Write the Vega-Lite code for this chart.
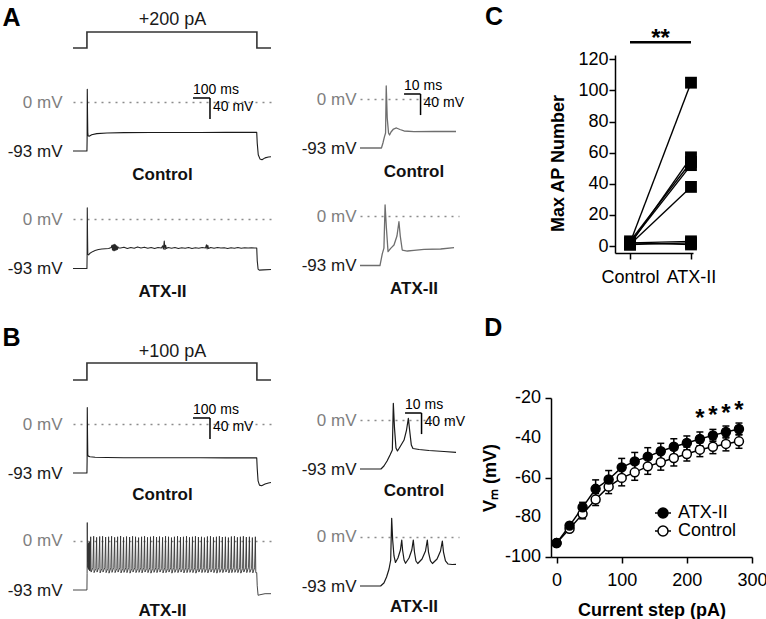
{
"$schema": "https://vega.github.io/schema/vega-lite/v6.json",
"padding": {"left": 2, "top": 0, "right": 0, "bottom": 0},
"background": "white",
"config": {"view": {"stroke": null}, "font": "Liberation Sans", "axis": {"grid": false, "labelFont": "Liberation Sans", "titleFont": "Liberation Sans"}, "legend": {"labelFont": "Liberation Sans"}, "title": {"font": "Liberation Sans"}, "text": {"font": "Liberation Sans"}},
"datasets": {
"stimA": [{"t":0,"i":0},{"t":82,"i":0},{"t":82,"i":200},{"t":1082,"i":200},{"t":1082,"i":0},{"t":1165,"i":0}],
"stimB": [{"t":0,"i":0},{"t":82,"i":0},{"t":82,"i":100},{"t":1082,"i":100},{"t":1082,"i":0},{"t":1165,"i":0}],
"a1l": [{"t":0,"v":-93},{"t":82,"v":-93},{"t":83,"v":-72},{"t":84,"v":24},{"t":85.5,"v":-22},{"t":87,"v":-58},{"t":89,"v":-64},{"t":95,"v":-65},{"t":110,"v":-62},{"t":140,"v":-60},{"t":200,"v":-58.8},{"t":300,"v":-58.2},{"t":450,"v":-58},{"t":600,"v":-57.8},{"t":750,"v":-57.8},{"t":900,"v":-57.6},{"t":1000,"v":-57.6},{"t":1081,"v":-57.6},{"t":1084,"v":-78},{"t":1090,"v":-100},{"t":1100,"v":-108},{"t":1112,"v":-109.5},{"t":1130,"v":-106},{"t":1150,"v":-104.4},{"t":1165,"v":-104}],
"a2l": [{"t":0,"v":-93},{"t":82,"v":-93},{"t":83,"v":-70},{"t":84,"v":22},{"t":85.5,"v":-30},{"t":87,"v":-66},{"t":92,"v":-67},{"t":100,"v":-64},{"t":115,"v":-61},{"t":130,"v":-59},{"t":150,"v":-57},{"t":170,"v":-56},{"t":190,"v":-55.5},{"t":210,"v":-55},{"t":225,"v":-53},{"t":229,"v":-49},{"t":232.5,"v":-58},{"t":236,"v":-48},{"t":239.5,"v":-59},{"t":243,"v":-47},{"t":246.5,"v":-59},{"t":250,"v":-48},{"t":253.5,"v":-58},{"t":257,"v":-50},{"t":260.5,"v":-57},{"t":264,"v":-52},{"t":268,"v":-54},{"t":280,"v":-54},{"t":300,"v":-52.5},{"t":320,"v":-55},{"t":340,"v":-53},{"t":360,"v":-54.5},{"t":380,"v":-52},{"t":400,"v":-54},{"t":420,"v":-52.5},{"t":440,"v":-54.5},{"t":460,"v":-53},{"t":480,"v":-55},{"t":500,"v":-53},{"t":520,"v":-54},{"t":528,"v":-50},{"t":532,"v":-56},{"t":537,"v":-41},{"t":541,"v":-57},{"t":545,"v":-49},{"t":549,"v":-55},{"t":560,"v":-53},{"t":580,"v":-54.5},{"t":600,"v":-53},{"t":620,"v":-55},{"t":640,"v":-53.5},{"t":660,"v":-54.5},{"t":680,"v":-53},{"t":700,"v":-55},{"t":720,"v":-53.5},{"t":740,"v":-54.5},{"t":760,"v":-53},{"t":780,"v":-54},{"t":785,"v":-48},{"t":789,"v":-56},{"t":793,"v":-49},{"t":797,"v":-55},{"t":810,"v":-53},{"t":830,"v":-54.5},{"t":850,"v":-53},{"t":870,"v":-54},{"t":890,"v":-53.5},{"t":910,"v":-55},{"t":930,"v":-53.5},{"t":950,"v":-54.5},{"t":970,"v":-53},{"t":990,"v":-54.5},{"t":1010,"v":-53.5},{"t":1030,"v":-54},{"t":1050,"v":-53.5},{"t":1070,"v":-54},{"t":1081,"v":-54},{"t":1084,"v":-78},{"t":1089,"v":-94},{"t":1096,"v":-96},{"t":1120,"v":-95.5},{"t":1165,"v":-95}],
"b1l": [{"t":0,"v":-93},{"t":82,"v":-93},{"t":83,"v":-70},{"t":84,"v":31},{"t":85.5,"v":-20},{"t":87,"v":-58},{"t":90,"v":-61},{"t":100,"v":-62},{"t":130,"v":-63},{"t":200,"v":-63.5},{"t":300,"v":-64},{"t":450,"v":-64},{"t":600,"v":-64},{"t":750,"v":-64},{"t":900,"v":-64.2},{"t":1000,"v":-64.2},{"t":1081,"v":-64.2},{"t":1084,"v":-85},{"t":1089,"v":-108},{"t":1097,"v":-116},{"t":1110,"v":-117},{"t":1130,"v":-114},{"t":1150,"v":-112},{"t":1165,"v":-111}],
"b2l": [{"t":0,"v":-93},{"t":82,"v":-93},{"t":83,"v":-62},{"t":84,"v":35},{"t":85.5,"v":-40},{"t":86.5,"v":-8},{"t":87.5,"v":-50},{"t":88.5,"v":-6},{"t":89.5,"v":-52},{"t":90.5,"v":-5},{"t":91.5,"v":-53},{"t":92.5,"v":-4},{"t":93.5,"v":-54},{"t":94.5,"v":-3},{"t":95.5,"v":-55},{"t":96.5,"v":-2},{"t":97.5,"v":-56},{"t":98.5,"v":-1},{"t":99.5,"v":-57},{"t":101,"v":-54},
{"t":104,"v":8},{"t":106.5,"v":-59},{"t":117,"v":-51},
{"t":121.5,"v":9},{"t":124,"v":-60},{"t":134.5,"v":-52},
{"t":139,"v":7},{"t":141.5,"v":-59},{"t":152,"v":-50},
{"t":157,"v":8.5},{"t":159.5,"v":-60.5},{"t":170,"v":-52},
{"t":174,"v":9},{"t":176.5,"v":-59},{"t":187,"v":-51},
{"t":192,"v":7.5},{"t":194.5,"v":-60},{"t":205,"v":-52},
{"t":209.5,"v":8},{"t":212,"v":-61},{"t":222.5,"v":-51},
{"t":227,"v":9},{"t":229.5,"v":-59.5},{"t":240,"v":-50},
{"t":245,"v":7},{"t":247.5,"v":-60},{"t":258,"v":-52},
{"t":262.5,"v":8},{"t":265,"v":-59},{"t":275.5,"v":-51},
{"t":280,"v":9.5},{"t":282.5,"v":-60.5},{"t":293,"v":-52},
{"t":297.5,"v":7},{"t":300,"v":-59.5},{"t":310.5,"v":-51},
{"t":315,"v":8.5},{"t":317.5,"v":-60},{"t":328,"v":-50},
{"t":333,"v":7.5},{"t":335.5,"v":-61},{"t":346,"v":-52},
{"t":350.5,"v":9},{"t":353,"v":-59},{"t":363.5,"v":-51},
{"t":368,"v":8},{"t":370.5,"v":-60},{"t":381,"v":-52},
{"t":386,"v":6.5},{"t":388.5,"v":-59.5},{"t":399,"v":-51},
{"t":403.5,"v":8},{"t":406,"v":-60.5},{"t":416.5,"v":-50},
{"t":421,"v":9},{"t":423.5,"v":-59},{"t":434,"v":-52},
{"t":438.5,"v":7},{"t":441,"v":-60},{"t":451.5,"v":-51},
{"t":456,"v":8},{"t":458.5,"v":-61},{"t":469,"v":-52},
{"t":474,"v":9},{"t":476.5,"v":-59.5},{"t":487,"v":-51},
{"t":491.5,"v":7.5},{"t":494,"v":-60},{"t":504.5,"v":-50},
{"t":509,"v":8.5},{"t":511.5,"v":-59},{"t":522,"v":-52},
{"t":527,"v":7},{"t":529.5,"v":-60.5},{"t":540,"v":-51},
{"t":544.5,"v":9},{"t":547,"v":-60},{"t":557.5,"v":-52},
{"t":562,"v":8},{"t":564.5,"v":-59},{"t":575,"v":-51},
{"t":579.5,"v":6.5},{"t":582,"v":-61},{"t":592.5,"v":-50},
{"t":597,"v":8},{"t":599.5,"v":-59.5},{"t":610,"v":-52},
{"t":615,"v":9},{"t":617.5,"v":-60},{"t":628,"v":-51},
{"t":632.5,"v":7.5},{"t":635,"v":-59},{"t":645.5,"v":-52},
{"t":650,"v":8},{"t":652.5,"v":-60.5},{"t":663,"v":-51},
{"t":668,"v":9},{"t":670.5,"v":-60},{"t":681,"v":-50},
{"t":685.5,"v":7},{"t":688,"v":-59.5},{"t":698.5,"v":-52},
{"t":703,"v":8},{"t":705.5,"v":-60},{"t":716,"v":-51},
{"t":720.5,"v":9},{"t":723,"v":-61},{"t":733.5,"v":-52},
{"t":738,"v":7.5},{"t":740.5,"v":-59},{"t":751,"v":-51},
{"t":756,"v":8},{"t":758.5,"v":-60},{"t":769,"v":-50},
{"t":773.5,"v":6.5},{"t":776,"v":-59.5},{"t":786.5,"v":-52},
{"t":791,"v":8.5},{"t":793.5,"v":-60.5},{"t":804,"v":-51},
{"t":809,"v":9},{"t":811.5,"v":-59},{"t":822,"v":-52},
{"t":826.5,"v":7},{"t":829,"v":-60},{"t":839.5,"v":-51},
{"t":844,"v":8},{"t":846.5,"v":-61},{"t":857,"v":-50},
{"t":861.5,"v":9},{"t":864,"v":-59.5},{"t":874.5,"v":-52},
{"t":879,"v":7.5},{"t":881.5,"v":-60},{"t":892,"v":-51},
{"t":897,"v":8},{"t":899.5,"v":-59},{"t":910,"v":-52},
{"t":914.5,"v":6.5},{"t":917,"v":-60.5},{"t":927.5,"v":-51},
{"t":932,"v":8.5},{"t":934.5,"v":-60},{"t":945,"v":-50},
{"t":950,"v":9},{"t":952.5,"v":-59.5},{"t":963,"v":-52},
{"t":967.5,"v":7},{"t":970,"v":-60},{"t":980.5,"v":-51},
{"t":985,"v":8},{"t":987.5,"v":-61},{"t":998,"v":-52},
{"t":1002.5,"v":9},{"t":1005,"v":-59},{"t":1015.5,"v":-51},
{"t":1020,"v":7.5},{"t":1022.5,"v":-60},{"t":1033,"v":-50},
{"t":1038,"v":8},{"t":1040.5,"v":-59.5},{"t":1051,"v":-52},
{"t":1055.5,"v":6.5},{"t":1058,"v":-60.5},{"t":1068.5,"v":-51},
{"t":1073,"v":8},{"t":1075.5,"v":-60},
{"t":1081,"v":-60},{"t":1084,"v":-85},{"t":1089,"v":-103},{"t":1100,"v":-102},{"t":1130,"v":-100},{"t":1165,"v":-100}],
"a1z": [{"t":0,"v":-93},{"t":13,"v":-93},{"t":13.9,"v":-83.5},{"t":14.8,"v":-72},{"t":15.5,"v":-64.5},{"t":15.9,"v":24.7},{"t":16.5,"v":-36},{"t":17.3,"v":-64.5},{"t":17.9,"v":-68.3},{"t":18.8,"v":-62.6},{"t":20.3,"v":-57},{"t":22.1,"v":-55},{"t":24.2,"v":-57.9},{"t":26.7,"v":-60.7},{"t":32.7,"v":-62},{"t":44.8,"v":-61.7},{"t":58.2,"v":-61.7}],
"a2z": [{"t":0,"v":-93},{"t":12.1,"v":-93},{"t":13.5,"v":-71},{"t":14.5,"v":-60},{"t":15.2,"v":22},{"t":16,"v":-21.8},{"t":17,"v":-66.8},{"t":18.6,"v":-60.4},{"t":20.6,"v":-54},{"t":22.4,"v":-37},{"t":23.6,"v":-9.9},{"t":24.4,"v":-37},{"t":25.6,"v":-63.6},{"t":28.7,"v":-65.5},{"t":32.7,"v":-64.2},{"t":38.8,"v":-62.3},{"t":48.9,"v":-61.7},{"t":57,"v":-59.2}],
"b1z": [{"t":0,"v":-93},{"t":12.7,"v":-93},{"t":14.5,"v":-87.3},{"t":16.4,"v":-77.8},{"t":18.2,"v":-66.4},{"t":19.6,"v":-57},{"t":20.2,"v":31.7},{"t":20.9,"v":-15},{"t":21.8,"v":-53},{"t":22.7,"v":-58.8},{"t":24.2,"v":-51.2},{"t":26.7,"v":-38},{"t":28.2,"v":-19},{"t":29.3,"v":3.2},{"t":30.2,"v":-22.8},{"t":31.1,"v":-47.4},{"t":32.1,"v":-54.1},{"t":35.8,"v":-56},{"t":41.8,"v":-57.9},{"t":50.9,"v":-59.8},{"t":58.2,"v":-61.3}],
"b2z": [{"t":0,"v":-93},{"t":12.5,"v":-93},{"t":14.5,"v":-87.3},{"t":16.1,"v":-76},{"t":17.6,"v":-60.7},{"t":18.6,"v":-43.7},{"t":19.2,"v":35.5},{"t":19.8,"v":-5.7},{"t":20.6,"v":-36},{"t":21.5,"v":-48.4},{"t":23,"v":-39.9},{"t":24.5,"v":-24.7},{"t":25.3,"v":-5.7},{"t":25.8,"v":-24.7},{"t":26.7,"v":-43.7},{"t":27.6,"v":-49.9},{"t":29.7,"v":-39.9},{"t":31.4,"v":-24.7},{"t":32.3,"v":-5.7},{"t":33,"v":-28.5},{"t":33.9,"v":-45.5},{"t":35,"v":-50.3},{"t":37.6,"v":-41.8},{"t":39.7,"v":-26.6},{"t":40.8,"v":-5.7},{"t":41.5,"v":-28.5},{"t":42.7,"v":-45.5},{"t":43.9,"v":-50.3},{"t":46.7,"v":-41.8},{"t":48.8,"v":-26.6},{"t":49.9,"v":-7.6},{"t":50.6,"v":-28.5},{"t":51.8,"v":-45.5},{"t":53.3,"v":-51.2},{"t":55.8,"v":-52.2},{"t":58.2,"v":-51.8}],
"sbA1L": [{"t0":706,"t1":806,"vT":7.6,"vB":-32.4,"tl":"100 ms","vl":"40 mV"}],
"sbA1Z": [{"t0":26.7,"t1":36.7,"vT":9.5,"vB":-30.5,"tl":"10 ms","vl":"40 mV"}],
"sbB1L": [{"t0":706,"t1":806,"vT":11.4,"vB":-28.6,"tl":"100 ms","vl":"40 mV"}],
"sbB1Z": [{"t0":27.3,"t1":37.3,"vT":13.3,"vB":-26.7,"tl":"10 ms","vl":"40 mV"}],
"apnum": [{"cell":1,"c":0,"n":2},{"cell":1,"c":1,"n":105},{"cell":2,"c":0,"n":1},{"cell":2,"c":1,"n":57},{"cell":3,"c":0,"n":3},{"cell":3,"c":1,"n":54},{"cell":4,"c":0,"n":2},{"cell":4,"c":1,"n":52},{"cell":5,"c":0,"n":1},{"cell":5,"c":1,"n":38},{"cell":6,"c":0,"n":2},{"cell":6,"c":1,"n":3},{"cell":7,"c":0,"n":1},{"cell":7,"c":1,"n":2},{"cell":8,"c":0,"n":2},{"cell":8,"c":1,"n":1}],
"sig": [{"a":0,"b":1,"y":131,"s":"**"}],
"vm": [{"x":0,"g":"Control","m":-93,"lo":-94,"hi":-92},{"x":20,"g":"Control","m":-85.8,"lo":-87.3,"hi":-84.3},{"x":40,"g":"Control","m":-78.3,"lo":-80.8,"hi":-75.8},{"x":60,"g":"Control","m":-71.1,"lo":-74.1,"hi":-68.1},{"x":80,"g":"Control","m":-64.6,"lo":-68.1,"hi":-61.1},{"x":100,"g":"Control","m":-60.2,"lo":-64.2,"hi":-56.2},{"x":120,"g":"Control","m":-57.4,"lo":-61.4,"hi":-53.4},{"x":140,"g":"Control","m":-54.4,"lo":-58.4,"hi":-50.4},{"x":160,"g":"Control","m":-52.3,"lo":-56.3,"hi":-48.3},{"x":180,"g":"Control","m":-50.2,"lo":-54.2,"hi":-46.2},{"x":200,"g":"Control","m":-48.2,"lo":-51.7,"hi":-44.7},{"x":220,"g":"Control","m":-46,"lo":-49.5,"hi":-42.5},{"x":240,"g":"Control","m":-44.5,"lo":-48,"hi":-41},{"x":260,"g":"Control","m":-43.1,"lo":-46.6,"hi":-39.6},{"x":280,"g":"Control","m":-41.8,"lo":-45.3,"hi":-38.3},
{"x":0,"g":"ATX-II","m":-93,"lo":-94,"hi":-92},{"x":20,"g":"ATX-II","m":-84.2,"lo":-85.7,"hi":-82.7},{"x":40,"g":"ATX-II","m":-75,"lo":-77.5,"hi":-72.5},{"x":60,"g":"ATX-II","m":-65.7,"lo":-70.2,"hi":-61.2},{"x":80,"g":"ATX-II","m":-61,"lo":-65.5,"hi":-56.5},{"x":100,"g":"ATX-II","m":-54.9,"lo":-59.4,"hi":-50.4},{"x":120,"g":"ATX-II","m":-51.9,"lo":-56.4,"hi":-47.4},{"x":140,"g":"ATX-II","m":-49.5,"lo":-54,"hi":-45},{"x":160,"g":"ATX-II","m":-46.8,"lo":-50.8,"hi":-42.8},{"x":180,"g":"ATX-II","m":-44.5,"lo":-48.5,"hi":-40.5},{"x":200,"g":"ATX-II","m":-42.6,"lo":-46.1,"hi":-39.1},{"x":220,"g":"ATX-II","m":-40.6,"lo":-44.1,"hi":-37.1},{"x":240,"g":"ATX-II","m":-38.8,"lo":-41.8,"hi":-35.8},{"x":260,"g":"ATX-II","m":-37.1,"lo":-40.1,"hi":-34.1},{"x":280,"g":"ATX-II","m":-35.6,"lo":-38.6,"hi":-32.6}],
"ast": [{"x":220,"y":-34.3},{"x":240,"y":-32.6},{"x":260,"y":-31.4},{"x":280,"y":-30.0}],
"ylab": [{"v":-100,"s":"-100"},{"v":-80,"s":"-80"},{"v":-60,"s":"-60"},{"v":-40,"s":"-40"},{"v":-20,"s":"-20"}]
},
"resolve": {"legend": {"fill": "independent"}},
"hconcat": [
{"hconcat": [
{"vconcat": [
{"width":198,"height":49,"data":{"name":"stimA"},"mark":{"type":"line","color":"#333333","strokeWidth":1.6},
 "encoding":{"x":{"field":"t","type":"quantitative","scale":{"domain":[0,1165],"nice":false,"zero":false},"axis":{"orient":"top","labels":false,"ticks":false,"tickSize":0,"domain":false,"grid":false,"title":"+200 pA","titleFontSize":18,"titleFontWeight":"normal","titleColor":"#1a1a1a","titleX":99,"titleY":19,"titleAlign":"center","titleBaseline":"middle","titleAngle":0}},
 "y":{"field":"i","type":"quantitative","scale":{"domain":[-12.5,600],"nice":false,"zero":false},"axis":{"labels":false,"ticks":false,"tickSize":0,"domain":false,"grid":false,"title":"A","titleAngle":0,"titleX":-71,"titleY":25,"titleAlign":"left","titleBaseline":"alphabetic","titleFontSize":25,"titleFontWeight":"bold","titleColor":"black"}},
 "order":{"value":null}}},
{"width":198,"height":147,"layer":[
 {"data":{"name":"a1l"},"mark":{"type":"line","color":"#1a1a1a","strokeWidth":1.1,"strokeJoin":"round"},
  "encoding":{"x":{"field":"t","type":"quantitative","scale":{"domain":[0,1165],"nice":false,"zero":false},"axis":{"orient":"bottom","labels":false,"ticks":false,"tickSize":0,"domain":false,"grid":false,"title":"Control","titleFontSize":17,"titleFontWeight":"bold","titleColor":"#111111","titleX":89,"titleY":-25,"titleAlign":"center","titleBaseline":"middle","titleAngle":0}},
  "y":{"field":"v","type":"quantitative","scale":{"domain":[-184.1,94.9],"nice":false,"zero":false},"axis":{"values":[0,-93],"labelExpr":"datum.value == 0 ? '0 mV' : '-93 mV'","labelColor":{"condition":{"test":"datum.value == 0","value":"#7f7f7f"},"value":"#1a1a1a"},"labelFontSize":17,"labelPadding":11,"ticks":false,"tickSize":0,"domain":false,"grid":true,"gridDash":[2,5],"gridColor":"#8c8c8c","gridWidth":1.5,"gridOpacity":{"condition":{"test":"datum.value == 0","value":1},"value":0},"title":null,"labelOverlap":false}},
  "order":{"value":null}}},
 {"data":{"name":"sbA1L"},"mark":{"type":"rule","color":"black","strokeWidth":1.5},"encoding":{"x":{"field":"t0","type":"quantitative"},"x2":{"field":"t1"},"y":{"field":"vT","type":"quantitative"}}},
 {"data":{"name":"sbA1L"},"mark":{"type":"rule","color":"black","strokeWidth":1.5},"encoding":{"x":{"field":"t1","type":"quantitative"},"y":{"field":"vT","type":"quantitative"},"y2":{"field":"vB"}}},
 {"data":{"name":"sbA1L"},"mark":{"type":"text","align":"left","baseline":"bottom","dy":-1,"fontSize":14,"color":"black"},"encoding":{"x":{"field":"t0","type":"quantitative"},"y":{"field":"vT","type":"quantitative"},"text":{"field":"tl"}}},
 {"data":{"name":"sbA1L"},"mark":{"type":"text","align":"left","baseline":"top","dx":3,"dy":2,"fontSize":14,"color":"black"},"encoding":{"x":{"field":"t1","type":"quantitative"},"y":{"field":"vT","type":"quantitative"},"text":{"field":"vl"}}}
]},
{"width":198,"height":124,"data":{"name":"a2l"},"mark":{"type":"line","color":"#262626","strokeWidth":1.1,"strokeJoin":"round"},
 "encoding":{"x":{"field":"t","type":"quantitative","scale":{"domain":[0,1165],"nice":false,"zero":false},"axis":{"orient":"bottom","labels":false,"ticks":false,"tickSize":0,"domain":false,"grid":false,"title":"ATX-II","titleFontSize":17,"titleFontWeight":"bold","titleColor":"#111111","titleX":89,"titleY":-32,"titleAlign":"center","titleBaseline":"middle","titleAngle":0}},
 "y":{"field":"v","type":"quantitative","scale":{"domain":[-196.4,38.9],"nice":false,"zero":false},"axis":{"values":[0,-93],"labelExpr":"datum.value == 0 ? '0 mV' : '-93 mV'","labelColor":{"condition":{"test":"datum.value == 0","value":"#7f7f7f"},"value":"#1a1a1a"},"labelFontSize":17,"labelPadding":11,"ticks":false,"tickSize":0,"domain":false,"grid":true,"gridDash":[2,5],"gridColor":"#8c8c8c","gridWidth":1.5,"gridOpacity":{"condition":{"test":"datum.value == 0","value":1},"value":0},"title":null,"labelOverlap":false}},
 "order":{"value":null}}},
{"width":198,"height":60,"data":{"name":"stimB"},"mark":{"type":"line","color":"#333333","strokeWidth":1.6},
 "encoding":{"x":{"field":"t","type":"quantitative","scale":{"domain":[0,1165],"nice":false,"zero":false},"axis":{"orient":"top","labels":false,"ticks":false,"tickSize":0,"domain":false,"grid":false,"title":"+100 pA","titleFontSize":18,"titleFontWeight":"normal","titleColor":"#1a1a1a","titleX":99,"titleY":28,"titleAlign":"center","titleBaseline":"middle","titleAngle":0}},
 "y":{"field":"i","type":"quantitative","scale":{"domain":[-17.6,335.3],"nice":false,"zero":false},"axis":{"labels":false,"ticks":false,"tickSize":0,"domain":false,"grid":false,"title":"B","titleAngle":0,"titleX":-71,"titleY":22,"titleAlign":"left","titleBaseline":"alphabetic","titleFontSize":25,"titleFontWeight":"bold","titleColor":"black"}},
 "order":{"value":null}}},
{"width":198,"height":120,"layer":[
 {"data":{"name":"b1l"},"mark":{"type":"line","color":"#1a1a1a","strokeWidth":1.1,"strokeJoin":"round"},
  "encoding":{"x":{"field":"t","type":"quantitative","scale":{"domain":[0,1165],"nice":false,"zero":false},"axis":{"orient":"bottom","labels":false,"ticks":false,"tickSize":0,"domain":false,"grid":false,"title":"Control","titleFontSize":17,"titleFontWeight":"bold","titleColor":"#111111","titleX":89,"titleY":-10,"titleAlign":"center","titleBaseline":"middle","titleAngle":0}},
  "y":{"field":"v","type":"quantitative","scale":{"domain":[-151.8,75.9],"nice":false,"zero":false},"axis":{"values":[0,-93],"labelExpr":"datum.value == 0 ? '0 mV' : '-93 mV'","labelColor":{"condition":{"test":"datum.value == 0","value":"#7f7f7f"},"value":"#1a1a1a"},"labelFontSize":17,"labelPadding":11,"ticks":false,"tickSize":0,"domain":false,"grid":true,"gridDash":[2,5],"gridColor":"#8c8c8c","gridWidth":1.5,"gridOpacity":{"condition":{"test":"datum.value == 0","value":1},"value":0},"title":null,"labelOverlap":false}},
  "order":{"value":null}}},
 {"data":{"name":"sbB1L"},"mark":{"type":"rule","color":"black","strokeWidth":1.5},"encoding":{"x":{"field":"t0","type":"quantitative"},"x2":{"field":"t1"},"y":{"field":"vT","type":"quantitative"}}},
 {"data":{"name":"sbB1L"},"mark":{"type":"rule","color":"black","strokeWidth":1.5},"encoding":{"x":{"field":"t1","type":"quantitative"},"y":{"field":"vT","type":"quantitative"},"y2":{"field":"vB"}}},
 {"data":{"name":"sbB1L"},"mark":{"type":"text","align":"left","baseline":"bottom","dy":-1,"fontSize":14,"color":"black"},"encoding":{"x":{"field":"t0","type":"quantitative"},"y":{"field":"vT","type":"quantitative"},"text":{"field":"tl"}}},
 {"data":{"name":"sbB1L"},"mark":{"type":"text","align":"left","baseline":"top","dx":3,"dy":2,"fontSize":14,"color":"black"},"encoding":{"x":{"field":"t1","type":"quantitative"},"y":{"field":"vT","type":"quantitative"},"text":{"field":"vl"}}}
]},
{"width":198,"height":119,"data":{"name":"b2l"},"mark":{"type":"line","color":"#333333","strokeWidth":0.9,"strokeJoin":"round"},
 "encoding":{"x":{"field":"t","type":"quantitative","scale":{"domain":[0,1165],"nice":false,"zero":false},"axis":{"orient":"bottom","labels":false,"ticks":false,"tickSize":0,"domain":false,"grid":false,"title":"ATX-II","titleFontSize":17,"titleFontWeight":"bold","titleColor":"#111111","titleX":89,"titleY":-13,"titleAlign":"center","titleBaseline":"middle","titleAngle":0}},
 "y":{"field":"v","type":"quantitative","scale":{"domain":[-155.6,70.2],"nice":false,"zero":false},"axis":{"values":[0,-93],"labelExpr":"datum.value == 0 ? '0 mV' : '-93 mV'","labelColor":{"condition":{"test":"datum.value == 0","value":"#7f7f7f"},"value":"#1a1a1a"},"labelFontSize":17,"labelPadding":11,"ticks":false,"tickSize":0,"domain":false,"grid":true,"gridDash":[2,5],"gridColor":"#8c8c8c","gridWidth":1.5,"gridOpacity":{"condition":{"test":"datum.value == 0","value":1},"value":0},"title":null,"labelOverlap":false}},
 "order":{"value":null}}}
], "spacing": 0},
{"vconcat": [
{"width":99,"height":196,"layer":[
 {"data":{"name":"a1z"},"mark":{"type":"line","color":"#6e6e6e","strokeWidth":1.3,"strokeJoin":"round"},
  "encoding":{"x":{"field":"t","type":"quantitative","scale":{"domain":[0,60],"nice":false,"zero":false},"axis":{"orient":"bottom","labels":false,"ticks":false,"tickSize":0,"domain":false,"grid":false,"title":"Control","titleFontSize":17,"titleFontWeight":"bold","titleColor":"#111111","titleX":53.5,"titleY":-25,"titleAlign":"center","titleBaseline":"middle","titleAngle":0}},
  "y":{"field":"v","type":"quantitative","scale":{"domain":[-184.1,187.9],"nice":false,"zero":false},"axis":{"values":[0,-93],"labelExpr":"datum.value == 0 ? '0 mV' : '-93 mV'","labelColor":{"condition":{"test":"datum.value == 0","value":"#7f7f7f"},"value":"#1a1a1a"},"labelFontSize":17,"labelPadding":4,"ticks":false,"tickSize":0,"domain":false,"grid":true,"gridDash":[2,5],"gridColor":"#8c8c8c","gridWidth":1.5,"gridOpacity":{"condition":{"test":"datum.value == 0","value":1},"value":0},"title":null,"labelOverlap":false}},
  "order":{"value":null}}},
 {"data":{"name":"sbA1Z"},"mark":{"type":"rule","color":"black","strokeWidth":1.5},"encoding":{"x":{"field":"t0","type":"quantitative"},"x2":{"field":"t1"},"y":{"field":"vT","type":"quantitative"}}},
 {"data":{"name":"sbA1Z"},"mark":{"type":"rule","color":"black","strokeWidth":1.5},"encoding":{"x":{"field":"t1","type":"quantitative"},"y":{"field":"vT","type":"quantitative"},"y2":{"field":"vB"}}},
 {"data":{"name":"sbA1Z"},"mark":{"type":"text","align":"left","baseline":"bottom","dy":-1,"fontSize":14,"color":"black"},"encoding":{"x":{"field":"t0","type":"quantitative"},"y":{"field":"vT","type":"quantitative"},"text":{"field":"tl"}}},
 {"data":{"name":"sbA1Z"},"mark":{"type":"text","align":"left","baseline":"top","dx":3,"dy":2,"fontSize":14,"color":"black"},"encoding":{"x":{"field":"t1","type":"quantitative"},"y":{"field":"vT","type":"quantitative"},"text":{"field":"vl"}}}
]},
{"width":99,"height":124,"data":{"name":"a2z"},"mark":{"type":"line","color":"#6e6e6e","strokeWidth":1.3,"strokeJoin":"round"},
 "encoding":{"x":{"field":"t","type":"quantitative","scale":{"domain":[0,60],"nice":false,"zero":false},"axis":{"orient":"bottom","labels":false,"ticks":false,"tickSize":0,"domain":false,"grid":false,"title":"ATX-II","titleFontSize":17,"titleFontWeight":"bold","titleColor":"#111111","titleX":53.5,"titleY":-32,"titleAlign":"center","titleBaseline":"middle","titleAngle":0}},
 "y":{"field":"v","type":"quantitative","scale":{"domain":[-196.4,38.9],"nice":false,"zero":false},"axis":{"values":[0,-93],"labelExpr":"datum.value == 0 ? '0 mV' : '-93 mV'","labelColor":{"condition":{"test":"datum.value == 0","value":"#7f7f7f"},"value":"#1a1a1a"},"labelFontSize":17,"labelPadding":4,"ticks":false,"tickSize":0,"domain":false,"grid":true,"gridDash":[2,5],"gridColor":"#8c8c8c","gridWidth":1.5,"gridOpacity":{"condition":{"test":"datum.value == 0","value":1},"value":0},"title":null,"labelOverlap":false}},
 "order":{"value":null}}},
{"width":99,"height":180,"layer":[
 {"data":{"name":"b1z"},"mark":{"type":"line","color":"#1a1a1a","strokeWidth":1.2,"strokeJoin":"round"},
  "encoding":{"x":{"field":"t","type":"quantitative","scale":{"domain":[0,60],"nice":false,"zero":false},"axis":{"orient":"bottom","labels":false,"ticks":false,"tickSize":0,"domain":false,"grid":false,"title":"Control","titleFontSize":17,"titleFontWeight":"bold","titleColor":"#111111","titleX":53.5,"titleY":-10,"titleAlign":"center","titleBaseline":"middle","titleAngle":0}},
  "y":{"field":"v","type":"quantitative","scale":{"domain":[-151.8,189.8],"nice":false,"zero":false},"axis":{"values":[0,-93],"labelExpr":"datum.value == 0 ? '0 mV' : '-93 mV'","labelColor":{"condition":{"test":"datum.value == 0","value":"#7f7f7f"},"value":"#1a1a1a"},"labelFontSize":17,"labelPadding":4,"ticks":false,"tickSize":0,"domain":false,"grid":true,"gridDash":[2,5],"gridColor":"#8c8c8c","gridWidth":1.5,"gridOpacity":{"condition":{"test":"datum.value == 0","value":1},"value":0},"title":null,"labelOverlap":false}},
  "order":{"value":null}}},
 {"data":{"name":"sbB1Z"},"mark":{"type":"rule","color":"black","strokeWidth":1.5},"encoding":{"x":{"field":"t0","type":"quantitative"},"x2":{"field":"t1"},"y":{"field":"vT","type":"quantitative"}}},
 {"data":{"name":"sbB1Z"},"mark":{"type":"rule","color":"black","strokeWidth":1.5},"encoding":{"x":{"field":"t1","type":"quantitative"},"y":{"field":"vT","type":"quantitative"},"y2":{"field":"vB"}}},
 {"data":{"name":"sbB1Z"},"mark":{"type":"text","align":"left","baseline":"bottom","dy":-1,"fontSize":14,"color":"black"},"encoding":{"x":{"field":"t0","type":"quantitative"},"y":{"field":"vT","type":"quantitative"},"text":{"field":"tl"}}},
 {"data":{"name":"sbB1Z"},"mark":{"type":"text","align":"left","baseline":"top","dx":3,"dy":2,"fontSize":14,"color":"black"},"encoding":{"x":{"field":"t1","type":"quantitative"},"y":{"field":"vT","type":"quantitative"},"text":{"field":"vl"}}}
]},
{"width":99,"height":119,"data":{"name":"b2z"},"mark":{"type":"line","color":"#1a1a1a","strokeWidth":1.2,"strokeJoin":"round"},
 "encoding":{"x":{"field":"t","type":"quantitative","scale":{"domain":[0,60],"nice":false,"zero":false},"axis":{"orient":"bottom","labels":false,"ticks":false,"tickSize":0,"domain":false,"grid":false,"title":"ATX-II","titleFontSize":17,"titleFontWeight":"bold","titleColor":"#111111","titleX":53.5,"titleY":-13,"titleAlign":"center","titleBaseline":"middle","titleAngle":0}},
 "y":{"field":"v","type":"quantitative","scale":{"domain":[-155.6,70.2],"nice":false,"zero":false},"axis":{"values":[0,-93],"labelExpr":"datum.value == 0 ? '0 mV' : '-93 mV'","labelColor":{"condition":{"test":"datum.value == 0","value":"#7f7f7f"},"value":"#1a1a1a"},"labelFontSize":17,"labelPadding":4,"ticks":false,"tickSize":0,"domain":false,"grid":true,"gridDash":[2,5],"gridColor":"#8c8c8c","gridWidth":1.5,"gridOpacity":{"condition":{"test":"datum.value == 0","value":1},"value":0},"title":null,"labelOverlap":false}},
 "order":{"value":null}}}
], "spacing": 0}
], "spacing": 26},
{"vconcat": [
{"width":142,"height":253,
 "title":{"text":"C","anchor":"start","frame":"bounds","fontSize":25,"fontWeight":"bold","color":"black","dx":-65,"offset":-30},
 "layer":[
  {"data":{"name":"apnum"},"mark":{"type":"line","color":"black","strokeWidth":1.4},
   "encoding":{"x":{"field":"c","type":"quantitative","scale":{"domain":[-0.246,1.033],"range":[64,142],"nice":false,"zero":false},"axis":{"values":[0,1],"labelExpr":"datum.value == 0 ? 'Control' : 'ATX-II'","title":null,"tickSize":6,"tickColor":"black","tickWidth":1.5,"domainColor":"black","domainWidth":1.5,"labelFontSize":18,"labelColor":"black","labelPadding":9,"labelFlush":false,"labelOverlap":false,"grid":false}},
   "y":{"field":"n","type":"quantitative","scale":{"domain":[-4.5,122.8],"range":[253,55],"nice":false,"zero":false},"axis":{"offset":-64,"values":[0,10,20,30,40,50,60,70,80,90,100,110,120],"labelExpr":"datum.value % 20 == 0 ? datum.label : ''","title":"Max AP Number","titleFontSize":18,"titleFontWeight":"bold","titleColor":"black","titlePadding":10,"titleY":163,"tickSize":{"condition":{"test":"datum.value % 20 != 0","value":3},"value":6},"tickColor":"black","tickWidth":1.5,"domainColor":"black","domainWidth":1.5,"labelFontSize":18,"labelColor":"black","labelPadding":1,"labelOverlap":false,"grid":false}},
   "detail":{"field":"cell","type":"nominal"}}},
  {"data":{"name":"apnum"},"mark":{"type":"square","color":"black","size":140,"opacity":1},
   "encoding":{"x":{"field":"c","type":"quantitative"},"y":{"field":"n","type":"quantitative"}}},
  {"data":{"name":"sig"},"mark":{"type":"rule","color":"black","strokeWidth":2.5},
   "encoding":{"x":{"field":"a","type":"quantitative"},"x2":{"field":"b"},"y":{"field":"y","type":"quantitative","scale":{"domain":[-4.5,122.8],"nice":false,"zero":false}}}},
  {"data":{"name":"sig"},"mark":{"type":"text","fontSize":24,"fontWeight":"bold","baseline":"alphabetic","dy":4,"color":"black"},
   "encoding":{"x":{"datum":0.5,"type":"quantitative"},"y":{"field":"y","type":"quantitative","scale":{"domain":[-4.5,122.8],"nice":false,"zero":false}},"text":{"field":"s"}}}
 ]},
{"width":201,"height":159,
 "title":{"text":"D","anchor":"start","frame":"bounds","fontSize":25,"fontWeight":"bold","color":"black","dx":3,"offset":48},
 "layer":[
  {"data":{"name":"vm"},"mark":{"type":"rule","color":"black","strokeWidth":1.5},
   "encoding":{"x":{"field":"x","type":"quantitative","scale":{"domain":[-8.5,300],"nice":false,"zero":false},"axis":{"values":[0,50,100,150,200,250,300],"labelExpr":"datum.value % 100 == 0 ? datum.label : ''","title":"Current step (pA)","titleFontSize":18,"titleFontWeight":"bold","titleColor":"black","titlePadding":12,"tickSize":{"condition":{"test":"datum.value % 100 != 0","value":4},"value":6},"tickColor":"black","tickWidth":1.5,"domainColor":"black","domainWidth":1.5,"labelFontSize":18,"labelColor":"black","labelPadding":8,"labelFlush":false,"labelOverlap":false,"grid":false}},
   "y":{"field":"lo","type":"quantitative","scale":{"domain":[-100,-20],"nice":false,"zero":false},"axis":{"values":[-100,-90,-80,-70,-60,-50,-40,-30,-20],"labels":false,"title":"Vₘ (mV)","titleFontSize":18,"titleFontWeight":"bold","titleColor":"black","titlePadding":45,"tickSize":{"condition":{"test":"datum.value % 20 != 0","value":3},"value":6},"tickColor":"black","tickWidth":1.5,"domainColor":"black","domainWidth":1.5,"grid":false}},
   "y2":{"field":"hi"}}},
  {"data":{"name":"ylab"},"mark":{"type":"text","align":"right","baseline":"middle","dx":-10,"fontSize":18,"color":"black"},
   "encoding":{"x":{"datum":-8.5,"type":"quantitative"},"y":{"field":"v","type":"quantitative"},"text":{"field":"s"}}},
  {"data":{"name":"vm"},"mark":{"type":"tick","orient":"horizontal","size":7,"thickness":1.5,"color":"black","opacity":1},
   "encoding":{"x":{"field":"x","type":"quantitative"},"y":{"field":"lo","type":"quantitative"}}},
  {"data":{"name":"vm"},"mark":{"type":"tick","orient":"horizontal","size":7,"thickness":1.5,"color":"black","opacity":1},
   "encoding":{"x":{"field":"x","type":"quantitative"},"y":{"field":"hi","type":"quantitative"}}},
  {"data":{"name":"vm"},"mark":{"type":"line","color":"black","strokeWidth":1.5},
   "encoding":{"x":{"field":"x","type":"quantitative"},"y":{"field":"m","type":"quantitative"},"detail":{"field":"g","type":"nominal"}}},
  {"data":{"name":"vm"},"mark":{"type":"point","shape":"circle","filled":true,"size":80,"stroke":"black","strokeWidth":1.5,"opacity":1},
   "encoding":{"x":{"field":"x","type":"quantitative"},"y":{"field":"m","type":"quantitative"},
   "fill":{"field":"g","type":"nominal","scale":{"domain":["ATX-II","Control"],"range":["black","white"]},"legend":{"orient":"none","legendX":103,"legendY":106,"title":null,"labelFontSize":18,"labelColor":"black","symbolType":"M-1.6,0L-1,0M1,0L1.6,0M1,0A1,1,0,1,1,-1,0A1,1,0,1,1,1,0Z","symbolSize":100,"symbolStrokeColor":"black","symbolStrokeWidth":1.5,"symbolOpacity":1,"labelOffset":6,"rowPadding":0,"padding":0}}}},
  {"data":{"name":"ast"},"mark":{"type":"text","text":"*","fontSize":24,"fontWeight":"bold","baseline":"alphabetic","color":"black"},
   "encoding":{"x":{"field":"x","type":"quantitative"},"y":{"field":"y","type":"quantitative"}}}
 ]}
], "spacing": 30, "resolve": {"legend": {"fill": "independent"}}}
],
"spacing": 15
}
